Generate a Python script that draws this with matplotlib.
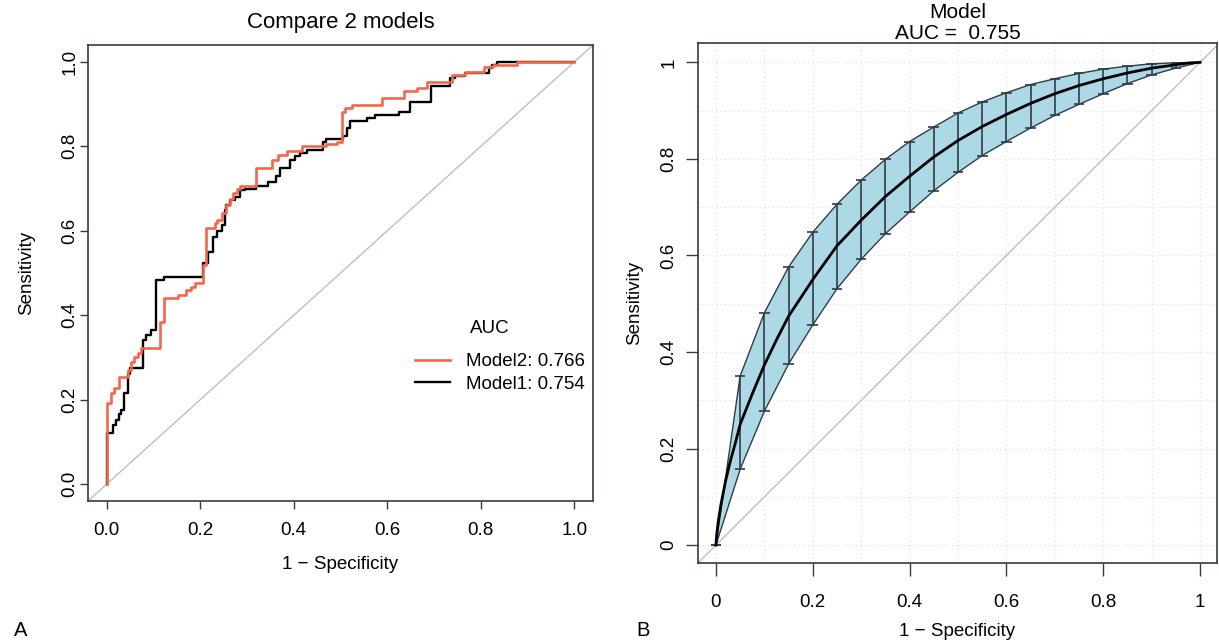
import matplotlib
matplotlib.use("Agg")
import matplotlib.pyplot as plt
import numpy as np

plt.rcParams["font.family"] = ["Liberation Sans", "DejaVu Sans"]

# Panel A: empirical ROC step points (x of vertical jump, tpr after the jump)
model1_fpr = [0.0, 0.0, 0.013, 0.02, 0.027, 0.031, 0.036, 0.045, 0.049, 0.077, 0.084, 0.095,
              0.106, 0.123, 0.206, 0.217, 0.228, 0.235, 0.246, 0.253, 0.256, 0.263, 0.274,
              0.285, 0.296, 0.32, 0.345, 0.363, 0.37, 0.392, 0.403, 0.413, 0.428, 0.463, 0.47,
              0.506, 0.513, 0.52, 0.556, 0.574, 0.624, 0.649, 0.694, 0.734, 0.745, 0.767,
              0.817, 0.824, 0.834, 1.0]
model1_tpr = [0.0, 0.12, 0.14, 0.152, 0.165, 0.175, 0.215, 0.26, 0.274, 0.341, 0.352, 0.365,
              0.483, 0.491, 0.523, 0.55, 0.586, 0.60, 0.614, 0.649, 0.661, 0.673, 0.681,
              0.697, 0.70, 0.705, 0.716, 0.73, 0.748, 0.768, 0.776, 0.785, 0.791, 0.81, 0.817,
              0.825, 0.843, 0.859, 0.866, 0.874, 0.882, 0.906, 0.942, 0.962, 0.966, 0.973,
              0.985, 0.993, 1.0, 1.0]

model2_fpr = [0.0, 0.0, 0.009, 0.016, 0.027, 0.045, 0.052, 0.059, 0.066, 0.073, 0.113, 0.123,
              0.152, 0.17, 0.18, 0.188, 0.206, 0.213, 0.231, 0.236, 0.246, 0.256, 0.263,
              0.27, 0.278, 0.285, 0.32, 0.353, 0.367, 0.385, 0.417, 0.47, 0.492, 0.503, 0.51,
              0.524, 0.588, 0.635, 0.663, 0.685, 0.738, 0.767, 0.806, 0.827, 0.877, 1.0]
model2_tpr = [0.0, 0.192, 0.215, 0.228, 0.254, 0.270, 0.290, 0.300, 0.310, 0.322, 0.385, 0.44,
              0.448, 0.46, 0.468, 0.476, 0.52, 0.606, 0.618, 0.626, 0.641, 0.661, 0.675,
              0.69, 0.70, 0.705, 0.748, 0.768, 0.78, 0.79, 0.80, 0.805, 0.81, 0.882, 0.89,
              0.898, 0.914, 0.93, 0.938, 0.953, 0.969, 0.977, 0.989, 0.992, 1.0, 1.0]

auc_model1 = 0.754
auc_model2 = 0.766

# Panel B: smoothed ROC with confidence band
smooth_fpr = [0.0, 0.002, 0.005, 0.01, 0.02, 0.03, 0.04, 0.05, 0.075, 0.1, 0.125, 0.15, 0.175,
              0.2, 0.25, 0.3, 0.35, 0.4, 0.45, 0.5, 0.55, 0.6, 0.65, 0.7, 0.75, 0.8, 0.85,
              0.9, 0.95, 0.975, 1.0]
smooth_tpr = [0.0, 0.025, 0.05, 0.082, 0.133, 0.175, 0.211, 0.25, 0.313, 0.373, 0.425, 0.474,
              0.512, 0.55, 0.62, 0.673, 0.722, 0.764, 0.804, 0.838, 0.867, 0.892, 0.915,
              0.935, 0.952, 0.966, 0.978, 0.988, 0.995, 0.9985, 1.0]

ci_fpr = [0.0, 0.05, 0.1, 0.15, 0.2, 0.25, 0.3, 0.35, 0.4, 0.45, 0.5, 0.55, 0.6, 0.65, 0.7,
          0.75, 0.8, 0.85, 0.9, 0.95, 1.0]
ci_upper = [0.0, 0.35, 0.481, 0.576, 0.648, 0.706, 0.756, 0.799, 0.836, 0.866, 0.895, 0.918,
            0.937, 0.954, 0.966, 0.977, 0.986, 0.992, 0.997, 0.999, 1.0]
ci_lower = [0.0, 0.157, 0.277, 0.375, 0.456, 0.531, 0.592, 0.645, 0.69, 0.734, 0.772, 0.807,
            0.836, 0.864, 0.89, 0.913, 0.935, 0.956, 0.974, 0.988, 1.0]
auc_smooth = 0.755

ticks = [0.0, 0.2, 0.4, 0.6, 0.8, 1.0]
frame_color = "#2f3d45"
red = "#F4674A"
diag_color = "#b4c2ca"
base_size = 13.5

fig = plt.figure(figsize=(12.19, 6.41), dpi=100)

# ---- Panel A ----
ax1 = fig.add_axes([0.0722, 0.2184, 0.4143, 0.7114])
ax1.set_xlim(-0.04, 1.04)
ax1.set_ylim(-0.04, 1.04)
ax1.axline((0, 0), (1, 1), color=diag_color, lw=1.0, zorder=1)
ax1.plot(model1_fpr, model1_tpr, drawstyle="steps-post", color="black", lw=1.7,
         label=f"Model1: {auc_model1:.3f}", zorder=2)
ax1.plot(model2_fpr, model2_tpr, drawstyle="steps-post", color=red, lw=1.9,
         label=f"Model2: {auc_model2:.3f}", zorder=3)
ax1.set_xticks(ticks)
ax1.set_xticklabels([f"{t:.1f}" for t in ticks])
ax1.set_yticks(ticks)
ax1.set_yticklabels([f"{t:.1f}" for t in ticks], rotation=90, va="center")
ax1.tick_params(length=5.5, width=1.0, color=frame_color, labelsize=base_size)
ax1.tick_params(axis="x", pad=9.5)
ax1.tick_params(axis="y", pad=1.5)
ax1.set_xlabel("1 \u2212 Specificity", fontsize=base_size, labelpad=12)
ax1.set_ylabel("Sensitivity", fontsize=base_size, labelpad=19)
ax1.set_title("Compare 2 models", fontsize=16, pad=12)
handles, labels = ax1.get_legend_handles_labels()
ax1.legend(handles[::-1], labels[::-1], frameon=False, fontsize=base_size,
           loc="upper left", bbox_to_anchor=(0.628, 0.345),
           handlelength=1.9, handletextpad=0.85, labelspacing=0.28, borderpad=0)
ax1.text(0.796, 0.379, "AUC", transform=ax1.transAxes, fontsize=base_size,
         ha="center", va="center")
for spine in ax1.spines.values():
    spine.set_color(frame_color)
    spine.set_linewidth(1.2)

# ---- Panel B ----
ax2 = fig.add_axes([0.5726, 0.1217, 0.4258, 0.8112])
ax2.set_xlim(-0.037, 1.035)
ax2.set_ylim(-0.037, 1.04)
grid_vals = np.arange(0, 11) / 10
for g in grid_vals:
    ax2.axhline(g, color="#dde3e8", lw=0.9, ls=(0, (1, 2.5)), zorder=0)
    ax2.axvline(g, color="#dde3e8", lw=0.9, ls=(0, (1, 2.5)), zorder=0)
ax2.axline((0, 0), (1, 1), color=diag_color, lw=1.0, zorder=1)
band_x = list(ci_fpr) + list(ci_fpr[::-1])
band_y = list(ci_upper) + list(ci_lower[::-1])
ax2.fill(band_x, band_y, facecolor="#ADD8E6", edgecolor=frame_color, lw=1.0, zorder=2)
ax2.vlines(ci_fpr[1:-1], ci_lower[1:-1], ci_upper[1:-1], color=frame_color, lw=1.2, zorder=3)
cap = 0.011
ax2.hlines(ci_upper[:-1], np.array(ci_fpr[:-1]) - cap, np.array(ci_fpr[:-1]) + cap,
           color=frame_color, lw=1.2, zorder=3)
ax2.hlines(ci_lower[:-1], np.array(ci_fpr[:-1]) - cap, np.array(ci_fpr[:-1]) + cap,
           color=frame_color, lw=1.2, zorder=3)
ax2.plot(smooth_fpr, smooth_tpr, color="black", lw=2.0, zorder=4)
ax2.set_xticks(ticks)
ax2.set_xticklabels(["0", "0.2", "0.4", "0.6", "0.8", "1"])
ax2.set_yticks(ticks)
ax2.set_yticklabels(["0", "0.2", "0.4", "0.6", "0.8", "1"], rotation=90, va="center")
ax2.tick_params(length=9, width=1.0, color=frame_color, labelsize=base_size)
ax2.tick_params(axis="x", pad=13)
ax2.tick_params(axis="y", pad=6)
ax2.set_xlabel("1 \u2212 Specificity", fontsize=base_size, labelpad=9)
ax2.set_ylabel("Sensitivity", fontsize=base_size, labelpad=12)
ax2.set_title(f"Model\nAUC =  {auc_smooth:.3f}", fontsize=base_size + 1.5, pad=2,
              linespacing=1.15)
for spine in ax2.spines.values():
    spine.set_color(frame_color)
    spine.set_linewidth(1.2)

fig.text(14 / 1219, 1 - 630 / 641, "A", fontsize=base_size + 1, va="center", ha="left")
fig.text(636 / 1219, 1 - 630 / 641, "B", fontsize=base_size + 1, va="center", ha="left")

fig.savefig("out.png", dpi=100)
